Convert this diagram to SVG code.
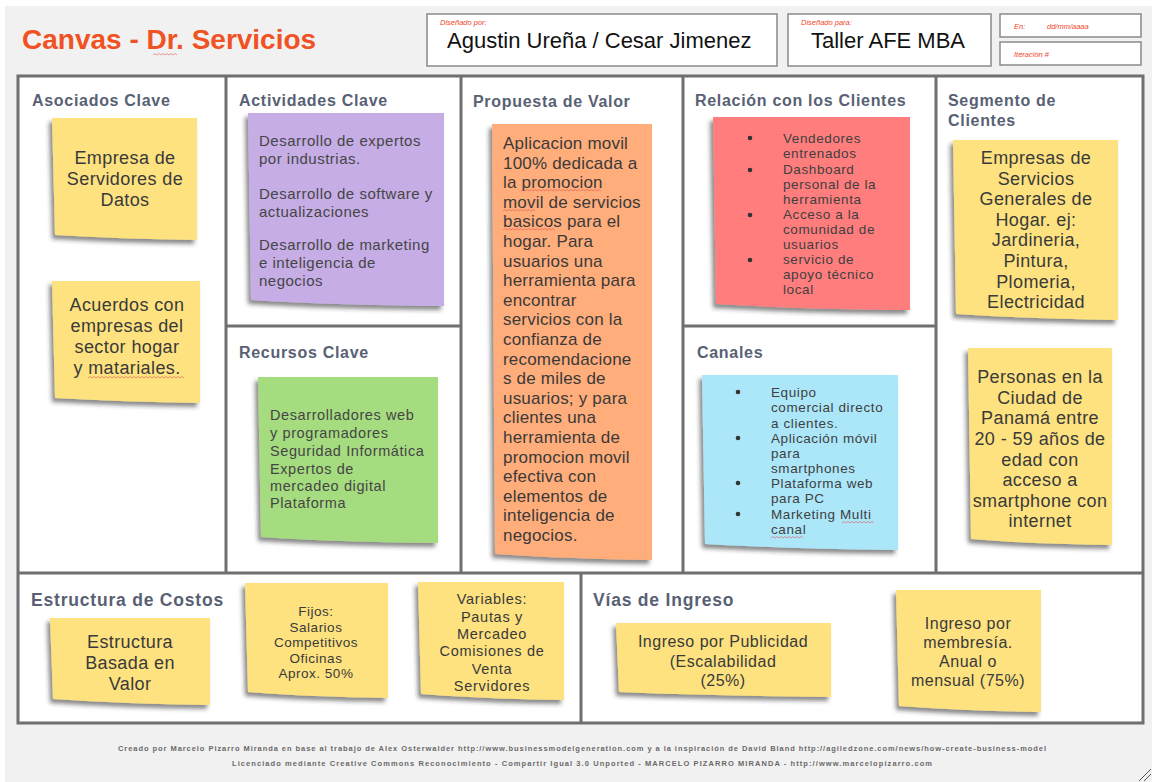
<svg xmlns="http://www.w3.org/2000/svg" width="1152" height="782" viewBox="0 0 1152 782">
  <defs>
    <style>
      text { font-family: "Liberation Sans", Arial, sans-serif; }
      .title { font-size: 28px; font-weight: bold; fill: #f05223; }
      .hdr-box { fill: #ffffff; stroke: #8a8a8a; stroke-width: 1.5; }
      .hdr-small { font-size: 7.5px; font-style: italic; fill: #f0452a; }
      .hdr-big { font-size: 22px; fill: #111111; }
      .grid { fill: none; stroke: #6f6f6f; stroke-width: 3; }
      .sec { font-size: 16px; font-weight: bold; fill: #586174; letter-spacing: 0.7px; }
      .sec-lg { font-size: 17.5px; font-weight: bold; fill: #586174; letter-spacing: 0.8px; }
      .sticky { filter: url(#curl); }
      .yellow { fill: #fde27f; }
      .purple { fill: #c6ade6; }
      .green { fill: #a6dc80; }
      .orange { fill: #ffad7a; }
      .red { fill: #ff7d7d; }
      .blue { fill: #abe7f9; }
      .t-big { font-size: 18px; fill: #3a3a3a; text-anchor: middle; letter-spacing: 0.4px; }
      .t-prop { font-size: 17px; fill: #3a3a3a; letter-spacing: 0.2px; }
      .t-act { font-size: 15px; fill: #454545; letter-spacing: 0.5px; }
      .t-rec { font-size: 14.5px; fill: #454545; letter-spacing: 0.6px; }
      .t-list { font-size: 13.5px; fill: #404040; letter-spacing: 0.6px; }
      .t-small { font-size: 13.5px; fill: #3a3a3a; text-anchor: middle; letter-spacing: 0.5px; }
      .t-var { font-size: 14.5px; fill: #3a3a3a; text-anchor: middle; letter-spacing: 0.7px; }
      .t-mid { font-size: 16px; fill: #3a3a3a; text-anchor: middle; letter-spacing: 0.5px; }
      .bullet { fill: #333333; }
      .squiggle { fill: none; stroke: #e05050; stroke-width: 0.8; stroke-opacity: 0.7; }
      .foot { font-size: 7.5px; font-weight: bold; fill: #6a6a6a; text-anchor: middle; }
    </style>
    <filter id="curl" x="-10%" y="-10%" width="125%" height="130%">
      <feDropShadow dx="-3" dy="4" stdDeviation="2.2" flood-color="#2a2a2a" flood-opacity="0.55"/>
    </filter>
  </defs>

  <!-- page -->
  <rect x="0" y="0" width="1152" height="782" fill="#ffffff"/>
  <rect x="5" y="6" width="1147" height="776" fill="#f1f1f1"/>

  <!-- header -->
  <g id="header">
    <text class="title" x="22" y="49">Canvas - Dr. Servicios</text>
    <path class="squiggle" d="M153 55 l2 -1.5 l2 1.5 l2 -1.5 l2 1.5 l2 -1.5 l2 1.5 l2 -1.5 l2 1.5 l2 -1.5 l2 1.5 l2 -1.5 l2 1.5"/>
    <rect class="hdr-box" x="427" y="14" width="350" height="52"/>
    <text class="hdr-small" x="440" y="25">Diseñado por:</text>
    <text class="hdr-big" x="447" y="48">Agustin Ureña / Cesar Jimenez</text>
    <rect class="hdr-box" x="788" y="14" width="203" height="52"/>
    <text class="hdr-small" x="801" y="25">Diseñado para:</text>
    <text class="hdr-big" x="811" y="48">Taller AFE MBA</text>
    <rect class="hdr-box" x="1000" y="14" width="141" height="23"/>
    <text class="hdr-small" x="1014" y="29">En:</text>
    <text class="hdr-small" x="1047" y="29">dd/mm/aaaa</text>
    <rect class="hdr-box" x="1000" y="42" width="141" height="23"/>
    <text class="hdr-small" x="1014" y="57">Iteración #</text>
  </g>

  <!-- canvas grid -->
  <g id="connectors">
    <rect x="18" y="76" width="1125" height="647" fill="#ffffff"/>
    <rect class="grid" x="18" y="76" width="1125" height="647"/>
    <path class="grid" d="M226 76 V573 M461 76 V573 M683 76 V573 M936 76 V573 M226 326 H461 M683 326 H936 M18 573 H1143 M581 573 V723"/>
  </g>

  <g id="asociados">
    <text class="sec" x="32" y="106">Asociados Clave</text>
    <path class="sticky yellow" d="M52 118 H197 V240 Q120 239 55 235 Z"/>
    <text class="t-big"><tspan x="125" y="164">Empresa de</tspan><tspan x="125" y="185">Servidores de</tspan><tspan x="125" y="206">Datos</tspan></text>
    <path class="sticky yellow" d="M52 281 H200 V403 Q125 402 55 398 Z"/>
    <text class="t-big"><tspan x="127" y="311">Acuerdos con</tspan><tspan x="127" y="332">empresas del</tspan><tspan x="127" y="353">sector hogar</tspan><tspan x="127" y="374">y matariales.</tspan></text>
    <path class="squiggle" d="M88 378 l2 -1.5 l2 1.5 l2 -1.5 l2 1.5 l2 -1.5 l2 1.5 l2 -1.5 l2 1.5 l2 -1.5 l2 1.5 l2 -1.5 l2 1.5 l2 -1.5 l2 1.5 l2 -1.5 l2 1.5 l2 -1.5 l2 1.5 l2 -1.5 l2 1.5 l2 -1.5 l2 1.5 l2 -1.5 l2 1.5 l2 -1.5 l2 1.5 l2 -1.5 l2 1.5 l2 -1.5 l2 1.5 l2 -1.5 l2 1.5 l2 -1.5 l2 1.5 l2 -1.5 l2 1.5 l2 -1.5 l2 1.5 l2 -1.5 l2 1.5 l2 -1.5 l2 1.5 l2 -1.5 l2 1.5 l2 -1.5 l2 1.5 l2 -1.5 l2 1.5"/>
  </g>

  <g id="actividades">
    <text class="sec" x="239" y="106">Actividades Clave</text>
    <path class="sticky purple" d="M248 113 H444 V306 Q330 305 251 300 Z"/>
    <text class="t-act"><tspan x="259" y="146">Desarrollo de expertos</tspan><tspan x="259" y="164">por industrias.</tspan><tspan x="259" y="199">Desarrollo de software y</tspan><tspan x="259" y="217">actualizaciones</tspan><tspan x="259" y="250">Desarrollo de marketing</tspan><tspan x="259" y="268">e inteligencia de</tspan><tspan x="259" y="286">negocios</tspan></text>
  </g>

  <g id="recursos">
    <text class="sec" x="239" y="358">Recursos Clave</text>
    <path class="sticky green" d="M258 377 H438 V543 Q335 542 261 537 Z"/>
    <text class="t-rec"><tspan x="270" y="420">Desarrolladores web</tspan><tspan x="270" y="438">y programadores</tspan><tspan x="270" y="456">Seguridad Informática</tspan><tspan x="270" y="474">Expertos de</tspan><tspan x="270" y="491">mercadeo digital</tspan><tspan x="270" y="508">Plataforma</tspan></text>
  </g>

  <g id="propuesta">
    <text class="sec" x="473" y="107">Propuesta de Valor</text>
    <path class="sticky orange" d="M492 124 H652 V560 Q565 559 495 554 Z"/>
    <text class="t-prop">
      <tspan x="503" y="149">Aplicacion movil</tspan>
      <tspan x="503" y="168.6">100% dedicada a</tspan>
      <tspan x="503" y="188.2">la promocion</tspan>
      <tspan x="503" y="207.8">movil de servicios</tspan>
      <tspan x="503" y="227.4">basicos para el</tspan>
      <tspan x="503" y="247">hogar. Para</tspan>
      <tspan x="503" y="266.6">usuarios una</tspan>
      <tspan x="503" y="286.2">herramienta para</tspan>
      <tspan x="503" y="305.8">encontrar</tspan>
      <tspan x="503" y="325.4">servicios con la</tspan>
      <tspan x="503" y="345">confianza de</tspan>
      <tspan x="503" y="364.6">recomendacione</tspan>
      <tspan x="503" y="384.2">s de miles de</tspan>
      <tspan x="503" y="403.8">usuarios; y para</tspan>
      <tspan x="503" y="423.4">clientes una</tspan>
      <tspan x="503" y="443">herramienta de</tspan>
      <tspan x="503" y="462.6">promocion movil</tspan>
      <tspan x="503" y="482.2">efectiva con</tspan>
      <tspan x="503" y="501.8">elementos de</tspan>
      <tspan x="503" y="521.4">inteligencia de</tspan>
      <tspan x="503" y="541">negocios.</tspan>
    </text>
    <path class="squiggle" d="M521 191 l2 -1.5 l2 1.5 l2 -1.5 l2 1.5 l2 -1.5 l2 1.5 l2 -1.5 l2 1.5 l2 -1.5 l2 1.5 l2 -1.5 l2 1.5 l2 -1.5 l2 1.5 l2 -1.5 l2 1.5 l2 -1.5 l2 1.5 l2 -1.5 l2 1.5 l2 -1.5 l2 1.5 l2 -1.5 l2 1.5 l2 -1.5 l2 1.5 l2 -1.5 l2 1.5 l2 -1.5 l2 1.5 l2 -1.5 l2 1.5 l2 -1.5 l2 1.5 l2 -1.5 l2 1.5 l2 -1.5 l2 1.5 l2 -1.5 l2 1.5"/>
    <path class="squiggle" d="M503 211 l2 -1.5 l2 1.5 l2 -1.5 l2 1.5 l2 -1.5 l2 1.5 l2 -1.5 l2 1.5 l2 -1.5 l2 1.5 l2 -1.5 l2 1.5 l2 -1.5 l2 1.5 l2 -1.5 l2 1.5"/>
    <path class="squiggle" d="M503 230 l2 -1.5 l2 1.5 l2 -1.5 l2 1.5 l2 -1.5 l2 1.5 l2 -1.5 l2 1.5 l2 -1.5 l2 1.5 l2 -1.5 l2 1.5 l2 -1.5 l2 1.5 l2 -1.5 l2 1.5 l2 -1.5 l2 1.5 l2 -1.5 l2 1.5 l2 -1.5 l2 1.5 l2 -1.5 l2 1.5 l2 -1.5 l2 1.5"/>
  </g>

  <g id="relacion">
    <text class="sec" x="695" y="106">Relación con los Clientes</text>
    <path class="sticky red" d="M713 117 H910 V310 Q800 309 716 304 Z"/>
    <circle class="bullet" cx="750" cy="138" r="2.3"/>
    <circle class="bullet" cx="750" cy="170" r="2.3"/>
    <circle class="bullet" cx="750" cy="215" r="2.3"/>
    <circle class="bullet" cx="750" cy="260" r="2.3"/>
    <text class="t-list"><tspan x="783" y="143">Vendedores</tspan><tspan x="783" y="158">entrenados</tspan><tspan x="783" y="174">Dashboard</tspan><tspan x="783" y="189">personal de la</tspan><tspan x="783" y="204">herramienta</tspan><tspan x="783" y="219">Acceso a la</tspan><tspan x="783" y="234">comunidad de</tspan><tspan x="783" y="249">usuarios</tspan><tspan x="783" y="264">servicio de</tspan><tspan x="783" y="279">apoyo técnico</tspan><tspan x="783" y="294">local</tspan></text>
  </g>

  <g id="canales">
    <text class="sec" x="697" y="358">Canales</text>
    <path class="sticky blue" d="M702 375 H898 V550 Q790 549 705 544 Z"/>
    <circle class="bullet" cx="738" cy="392" r="2.3"/>
    <circle class="bullet" cx="738" cy="438" r="2.3"/>
    <circle class="bullet" cx="738" cy="483" r="2.3"/>
    <circle class="bullet" cx="738" cy="514" r="2.3"/>
    <text class="t-list"><tspan x="771" y="397">Equipo</tspan><tspan x="771" y="412">comercial directo</tspan><tspan x="771" y="428">a clientes.</tspan><tspan x="771" y="443">Aplicación móvil</tspan><tspan x="771" y="458">para</tspan><tspan x="771" y="473">smartphones</tspan><tspan x="771" y="488">Plataforma web</tspan><tspan x="771" y="503">para PC</tspan><tspan x="771" y="519">Marketing Multi</tspan><tspan x="771" y="534">canal</tspan></text>
    <path class="squiggle" d="M842 523 l2 -1.5 l2 1.5 l2 -1.5 l2 1.5 l2 -1.5 l2 1.5 l2 -1.5 l2 1.5 l2 -1.5 l2 1.5 l2 -1.5 l2 1.5 l2 -1.5 l2 1.5 l2 -1.5 l2 1.5 M771 538 l2 -1.5 l2 1.5 l2 -1.5 l2 1.5 l2 -1.5 l2 1.5 l2 -1.5 l2 1.5 l2 -1.5 l2 1.5 l2 -1.5 l2 1.5 l2 -1.5 l2 1.5 l2 -1.5 l2 1.5"/>
  </g>

  <g id="segmento">
    <text class="sec"><tspan x="948" y="106">Segmento de</tspan><tspan x="948" y="126">Clientes</tspan></text>
    <path class="sticky yellow" d="M953 140 H1118 V320 Q1030 319 956 314 Z"/>
    <text class="t-big"><tspan x="1036" y="164">Empresas de</tspan><tspan x="1036" y="185">Servicios</tspan><tspan x="1036" y="205">Generales de</tspan><tspan x="1036" y="226">Hogar. ej:</tspan><tspan x="1036" y="246">Jardineria,</tspan><tspan x="1036" y="267">Pintura,</tspan><tspan x="1036" y="288">Plomeria,</tspan><tspan x="1036" y="308">Electricidad</tspan></text>
    <path class="sticky yellow" d="M968 348 H1112 V545 Q1030 544 971 539 Z"/>
    <text class="t-big"><tspan x="1040" y="383">Personas en la</tspan><tspan x="1040" y="404">Ciudad de</tspan><tspan x="1040" y="424">Panamá entre</tspan><tspan x="1040" y="445">20 - 59 años de</tspan><tspan x="1040" y="466">edad con</tspan><tspan x="1040" y="486">acceso a</tspan><tspan x="1040" y="507">smartphone con</tspan><tspan x="1040" y="527">internet</tspan></text>
  </g>

  <g id="costos">
    <text class="sec-lg" x="31" y="606">Estructura de Costos</text>
    <path class="sticky yellow" d="M50 618 H210 V705 Q125 704 53 699 Z"/>
    <text class="t-big"><tspan x="130" y="648">Estructura</tspan><tspan x="130" y="669">Basada en</tspan><tspan x="130" y="690">Valor</tspan></text>
    <path class="sticky yellow" d="M245 583 H388 V698 Q310 697 248 692 Z"/>
    <text class="t-small"><tspan x="316" y="616">Fijos:</tspan><tspan x="316" y="632">Salarios</tspan><tspan x="316" y="647">Competitivos</tspan><tspan x="316" y="663">Oficinas</tspan><tspan x="316" y="678">Aprox. 50%</tspan></text>
    <path class="sticky yellow" d="M418 582 H564 V700 Q485 699 421 694 Z"/>
    <text class="t-var"><tspan x="492" y="604">Variables:</tspan><tspan x="492" y="622">Pautas y</tspan><tspan x="492" y="639">Mercadeo</tspan><tspan x="492" y="656">Comisiones de</tspan><tspan x="492" y="674">Venta</tspan><tspan x="492" y="691">Servidores</tspan></text>
  </g>

  <g id="ingresos">
    <text class="sec-lg" x="593" y="606">Vías de Ingreso</text>
    <path class="sticky yellow" d="M616 623 H831 V697 Q720 696 619 692 Z"/>
    <text class="t-mid"><tspan x="723" y="647">Ingreso por Publicidad</tspan><tspan x="723" y="667">(Escalabilidad</tspan><tspan x="723" y="686">(25%)</tspan></text>
    <path class="sticky yellow" d="M896 590 H1041 V712 Q965 711 899 706 Z"/>
    <text class="t-mid"><tspan x="968" y="629">Ingreso por</tspan><tspan x="968" y="648">membresía.</tspan><tspan x="968" y="667">Anual o</tspan><tspan x="968" y="686">mensual (75%)</tspan></text>
  </g>

  <!-- credits -->
  <g id="footer">
    <text class="foot" x="582" y="751" textLength="928" lengthAdjust="spacing">Creado por Marcelo Pizarro Miranda en base al trabajo de Alex Osterwalder http://www.businessmodelgeneration.com y a la inspiración de David Bland http://agiledzone.com/news/how-create-business-model</text>
    <text class="foot" x="582" y="766" textLength="700" lengthAdjust="spacing">Licenciado mediante Creative Commons Reconocimiento - Compartir Igual 3.0 Unported - MARCELO PIZARRO MIRANDA - http://www.marcelopizarro.com</text>
  </g>

  <!-- window resize grip -->
  <path d="M1139 781 L1151 769 M1144 781 L1151 774" stroke="#555555" stroke-width="1" fill="none"/>
</svg>
